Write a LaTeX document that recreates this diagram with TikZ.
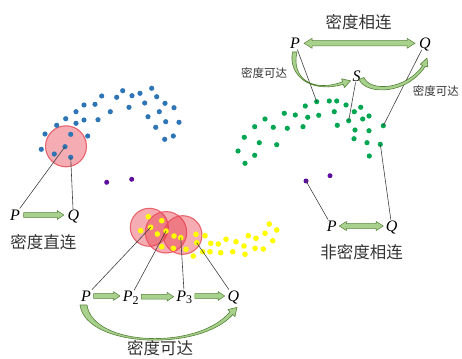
\documentclass[tikz,border=0pt]{standalone}
\usepackage{fontspec}
\setmainfont{Liberation Serif}
\newfontfamily\cjk{Noto Sans CJK SC}
\usetikzlibrary{calc}
\definecolor{bluedot}{HTML}{2E75B6}
\definecolor{greendot}{HTML}{00A650}
\definecolor{yellowdot}{HTML}{FFFF00}
\definecolor{purpledot}{HTML}{5C0F9E}
\definecolor{ringred}{HTML}{E8505B}
\definecolor{ringfill}{HTML}{E63240}
\definecolor{arrfill}{HTML}{A9D18E}
\definecolor{arrline}{HTML}{548235}
\definecolor{txtgray}{HTML}{333333}
\newcommand{\asw}{2pt}
\newcommand{\ahw}{4pt}
\newcommand{\ahl}{6pt}
\newcommand{\agap}{2.5pt}
\tikzset{
  arrsize/.code n args={4}{\def\asw{#1}\def\ahw{#2}\def\ahl{#3}\def\agap{#4}},
  dot/.style={circle, inner sep=0pt, minimum size=5.2pt},
  bdot/.style={dot, fill=bluedot},
  gdot/.style={dot, fill=greendot},
  ydot/.style={dot, fill=yellowdot, minimum size=5.6pt},
  pdot/.style={dot, fill=purpledot, minimum size=5pt},
  ring/.style={circle, inner sep=0pt, draw=ringred, line width=1.1pt, fill=ringfill, fill opacity=0.4, draw opacity=0.85},
  conn/.style={draw=black!75, line width=0.6pt},
  lett/.style={inner sep=1pt, text depth=0pt, font=\fontsize{16}{16}\selectfont\itshape, text=black},
  cjkl/.style={inner sep=0pt, font=\cjk\fontsize{16.5}{17}\selectfont, text=txtgray},
  cjks/.style={inner sep=0pt, font=\cjk\fontsize{11.5}{12}\selectfont, text=txtgray},
  curvarr/.style={draw=arrline, fill=arrfill, line width=0.6pt, line join=round},
  blockarr/.style={draw=arrline, fill=arrfill, line width=0.5pt, line join=miter,
    to path={let \p1=(\tikztostart), \p2=(\tikztotarget) in
      (\x1+\agap,\y1-\asw) -- (\x2-\agap-\ahl,\y1-\asw) -- (\x2-\agap-\ahl,\y1-\ahw) -- (\x2-\agap,\y1)
      -- (\x2-\agap-\ahl,\y1+\ahw) -- (\x2-\agap-\ahl,\y1+\asw) -- (\x1+\agap,\y1+\asw) -- cycle}},
  dblockarr/.style={draw=arrline, fill=arrfill, line width=0.5pt, line join=miter,
    to path={let \p1=(\tikztostart), \p2=(\tikztotarget) in
      (\x1+\agap,\y1) -- (\x1+\agap+\ahl,\y1+\ahw) -- (\x1+\agap+\ahl,\y1+\asw) -- (\x2-\agap-\ahl,\y1+\asw)
      -- (\x2-\agap-\ahl,\y1+\ahw) -- (\x2-\agap,\y1) -- (\x2-\agap-\ahl,\y1-\ahw) -- (\x2-\agap-\ahl,\y1-\asw)
      -- (\x1+\agap+\ahl,\y1-\asw) -- (\x1+\agap+\ahl,\y1-\ahw) -- cycle}},
}
\begin{document}
\begin{tikzpicture}[x=1pt, y=-1pt]
\useasboundingbox (0,0) rectangle (462,358);

% ---------- red rings ----------
\node[ring, minimum size=41pt] (r0) at (66,146.3) {};
\node[ring, minimum size=38pt] (r1) at (149.3,227.3) {};
\node[ring, minimum size=41.4pt] (r2) at (166,232.3) {};
\node[ring, minimum size=38.6pt] (r3) at (182.7,235) {};

% ---------- blue cluster ----------
\foreach \x/\y [count=\i] in {151.7/88.3,122.7/90.7,140/93.3,132/95.7,101.7/96,116.7/97.3,156.7/96.7,
  84/105,95/104.3,144.7/103,165/103.3,129/107.3,174/107.7,76/111.7,110.3/111.7,159.3/111.7,
  65.7/118.7,148/116.7,84/120,76/123.3,98/119.7,165.7/121.7,179/122.3,56.7/125.3,155.7/127.3,
  45/134,70.7/134.3,87.7/136,173.3/136,164.7/139.3,41.3/149.3,54.3/154}
  \node[bdot] (b\i) at (\x,\y) {};
\node[bdot] (bP) at (65,146.7) {};
\node[bdot] (bQ) at (70.7,157.3) {};

% ---------- purple points ----------
\node[pdot] (u1) at (106.7,182.3) {};
\node[pdot] (u2) at (131.7,179.3) {};
\node[pdot] (uP) at (306,181) {};
\node[pdot] (u3) at (330,175.7) {};

% ---------- green cluster ----------
\foreach \x/\y [count=\i] in {329.3/101,336.7/101,305.3/106,346/105,360.7/107.3,284.3/113.3,295.3/115,
  307.7/117.3,318.7/115.3,334.3/111.7,354.3/111.7,369/116,362.7/119,265/119,
  254.7/126.7,273.3/127.3,287.3/128.3,303/126.7,337.3/125.3,355/130,369/130.7,
  244.3/137.3,259.3/142.7,276.7/144.7,354/138.7,367/142.7,238/151,254.7/155.3,369.3/156,245/163.3}
  \node[gdot] (g\i) at (\x,\y) {};
\node[gdot] (gP) at (316.7,101.7) {};
\node[gdot] (gS) at (348.7,120.7) {};
\node[gdot] (gQ) at (383.3,125.7) {};
\node[gdot] (gQb) at (380.3,144.3) {};

% ---------- yellow cluster ----------
\foreach \x/\y [count=\i] in {148.3/216.7,161.7/220.7,140.7/230.7,157.3/234,174/236,173.3/248.3,161.7/246.7,
  186/249.3,196/234.3,205/235.7,210.7/243.3,218.3/244,226/239.3,202.7/251.7,210/251.7,220.7/252.7,
  193.3/256,232.7/251.7,236/241.7,244/246,248.3/235.7,256/238.3,245/254.3,255/248.3,263.3/249,
  265/233.3,269.3/224,272.7/240.7,276.7/230}
  \node[ydot] (y\i) at (\x,\y) {};
\node[ydot] (yP) at (150.7,227.3) {};
\node[ydot] (yP2) at (166,231) {};
\node[ydot] (yP3) at (180.7,237.7) {};
\node[ydot] (yQ) at (196.7,242.7) {};

% ---------- texts ----------
\node[lett] (aP) at (15,215) {P};
\node[lett] (aQ) at (73.3,215.7) {Q};
\node[cjkl] (aL) at (43.3,241.7) {密度直连};
\node[cjkl] (cL) at (358.7,21.7) {密度相连};
\node[lett] (cP) at (295,43.3) {P};
\node[lett] (cQ) at (425,43.3) {Q};
\node[lett] (cS) at (356.7,76) {S};
\node[cjks] (cL1) at (264.2,72.7) {密度可达};
\node[cjks] (cL2) at (435.8,90.7) {密度可达};
\node[lett] (nP) at (331.7,226) {P};
\node[lett] (nQ) at (391.7,226) {Q};
\node[cjkl] (nL) at (361.7,251.7) {非密度相连};
\node[lett] (dP) at (86,296) {P};
\node[lett] (dP2) at (130.7,296.7) {P{\upshape\raisebox{-0.35ex}{\fontsize{12}{12}\selectfont 2}}};
\node[lett] (dP3) at (184.3,296) {P{\upshape\raisebox{-0.35ex}{\fontsize{12}{12}\selectfont 3}}};
\node[lett] (dQ) at (233.3,296) {Q};
\node[cjkl] (dL) at (160,348.3) {密度可达};

% ---------- connectors ----------
\draw[conn] (bP.center) -- (aP);
\draw[conn] (bQ.center) -- (aQ);
\draw[conn] (gP.center) -- (cP);
\draw[conn] (gS.center) -- (cS);
\draw[conn] (gQ.center) -- (cQ);
\draw[conn] (gQb.center) -- (nQ);
\draw[conn] (uP.center) -- (nP);
\draw[conn] (yP.center) -- (dP);
\draw[conn] (yP2.center) -- (dP2);
\draw[conn] (yP3.center) -- (dP3);
\draw[conn] (yQ.center) -- (dQ);

% ---------- block arrows ----------
\draw[blockarr, arrsize={2.3pt}{4.4pt}{6.5pt}{2.5pt}] (aP.east) to (aQ.west);
\draw[blockarr, arrsize={2.3pt}{4.4pt}{6.5pt}{1.6pt}] (dP.east) to (dP2.west);
\draw[blockarr, arrsize={2.3pt}{4.4pt}{6.5pt}{1.6pt}] (dP2.east) to (dP3.west);
\draw[blockarr, arrsize={2.3pt}{4.4pt}{6.5pt}{1.6pt}] (dP3.east) to (dQ.west);
\draw[dblockarr, arrsize={2.6pt}{5pt}{8pt}{3pt}] (cP.east) to (cQ.west);
\draw[dblockarr, arrsize={2.3pt}{4.5pt}{7pt}{1.5pt}] (nP.east) to (nQ.west);

% ---------- curved arrows ----------
\draw[curvarr] (292.5,52) .. controls (288,75) and (310,94) .. (343.2,84.3)
  -- (344.5,87.5) -- (350.5,80.8) -- (341.5,78.8) -- (342.6,81.8)
  .. controls (312,93) and (291,78) .. (297,52) -- cycle;
\draw[curvarr] (359,79.5) .. controls (367,96) and (408,94) .. (425.3,66.2)
  -- (427.9,67) -- (427,58) -- (420.2,64.3) -- (422.8,65.4)
  .. controls (406,90) and (370,92) .. (364,77.5) -- cycle;
\draw[curvarr] (80,305) .. controls (86,348) and (200,352) .. (232.8,314.5)
  -- (234.9,316.6) -- (237,307.4) -- (227.9,309.6) -- (230,311.7)
  .. controls (199,350) and (93,347) .. (87,305) -- cycle;
\end{tikzpicture}
\end{document}
